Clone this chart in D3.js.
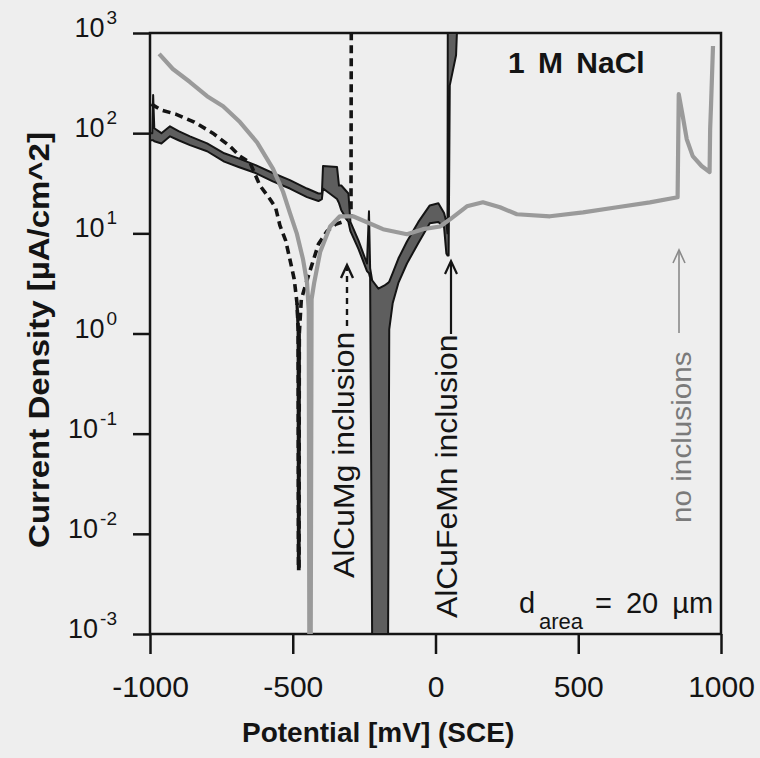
<!DOCTYPE html>
<html lang="en">
<head>
<meta charset="UTF-8">
<script src="https://cdn.jsdelivr.net/npm/d3@7"></script>
<style>
  body { margin: 0; background: #eeeeee; }
  svg { display: block; font-family: "Liberation Sans", Arial, Helvetica, sans-serif; }
</style>
</head>
<body>
<div id="chart_area"></div>
<script>
// axis ticks
var potTicks = [-1000, -500, 0, 500, 1000];
var decadeExp = [3, 2, 1, 0, -1, -2, -3];

// AlCuFeMn inclusion (solid, noisy -> upper / lower envelope of the band)
var solidPot = [-1000, -992, -989, -985, -960, -930, -900, -860, -800, -740, -690, -630, -570, -510, -450, -410, -398,
                -394, -345, -338, -330, -305, -298, -270, -240, -233, -229, -222, -200, -180, -166, -162, -150, -130,
                -100, -60, -20, 10, 30, 38, 42, 43, 46, 50, 72, 75];
var solidHi  = [100, 100, 240, 112, 100, 117, 105, 93, 79, 63, 56, 48, 40, 34, 28, 25, 25,
                47, 46, 30, 30, 25, 13, 8.5, 5, 16.6, 4.5, 3.4, 2.8, 3.0, 3.2, 3.3, 4.0, 5.6,
                8.3, 13, 19, 20, 16, 13, 10, 1000, 1000, 1000, 1000, 1000];
var solidLo  = [85, 85, 85, 83, 79, 93, 85, 76, 66, 52, 46, 40, 33, 28, 23, 21, 22,
                28, 22, 20, 17, 13, 10.5, 7, 4.2, 4, 3.6, 0.001, 0.001, 0.001, 0.001, 1.1, 2.0, 3.2,
                5.0, 8, 12.6, 13, 11.5, 6.3, 6, 6, 6, 300, 600, 1000];

// AlCuMg inclusion (dashed)
var dashPot = [-995, -960, -910, -845, -780, -720, -685, -650, -615, -580, -560, -545, -525, -510, -495, -485,
               -481, -480, -478, -477, -470, -446, -410, -380, -350, -325, -305, -296, -295];
var dashCur = [195, 170, 155, 129, 100, 74, 59, 51, 30, 22, 18, 12, 8.5, 5.5, 3.5, 2.0,
               1.1, 0.0045, 0.0045, 1.0, 2.2, 3.7, 7.8, 10.5, 12.3, 13, 14.5, 15, 1000];

// no inclusions (grey)
var greyPot = [-968, -920, -860, -800, -744, -685, -625, -569, -534, -510, -486, -464, -450, -444, -442, -437,
               -434, -425, -404, -369, -335, -289, -240, -184, -100, -44, 16, 51, 110, 166, 226, 285, 401,
               517, 636, 751, 848, 852, 866, 880, 901, 932, 960, 962, 965, 972];
var greyCur = [620, 437, 324, 234, 186, 129, 81, 44, 26, 16, 10, 5.5, 3.2, 1.7, 0.001, 0.001,
               2.2, 3.2, 6.5, 11.7, 14.8, 14.8, 12.9, 11, 9.8, 11, 11.7, 13.8, 18.6, 20.4, 18.2, 15.5, 14.8,
               16.2, 18.2, 20.4, 22.9, 245, 148, 87, 59, 47, 41, 110, 186, 741];

var W = 760, H = 758;
var x = d3.scaleLinear().domain([-1000, 1000]).range([150, 721]);
var y = d3.scaleLog().domain([1e-3, 1e3]).range([634, 33]);
var ink = "#141414";

var svg = d3.select("#chart_area").append("svg")
    .attr("width", W)
    .attr("height", H);

svg.append("rect").attr("width", W).attr("height", H).attr("fill", "#eeeeee");

svg.append("defs").append("clipPath").attr("id", "plot")
  .append("rect").attr("x", 150).attr("y", 33).attr("width", 571).attr("height", 601);

// axes
var xAxis = svg.append("g")
    .attr("transform", "translate(0,634)")
    .call(d3.axisBottom(x).tickValues(potTicks).tickSize(20).tickSizeOuter(0).tickPadding(22)
      .tickFormat(function(d) { return String(d); }));
xAxis.select(".domain").remove();
xAxis.selectAll("line").attr("stroke", ink).attr("stroke-width", 2.5);
xAxis.selectAll("text").attr("font-size", 30).attr("fill", ink)
    .attr("font-family", "Liberation Sans, Arial, sans-serif");

var yAxis = svg.append("g")
    .attr("transform", "translate(150,0)")
    .call(d3.axisLeft(y).tickValues(decadeExp.map(function(e) { return Math.pow(10, e); }))
      .tickSize(17).tickSizeOuter(0).tickFormat(""));
yAxis.select(".domain").remove();
yAxis.selectAll("line").attr("stroke", ink).attr("stroke-width", 2.5);

decadeExp.forEach(function(e) {
  var t = svg.append("text")
      .attr("x", 117)
      .attr("y", y(Math.pow(10, e)) + 4)
      .attr("text-anchor", "end")
      .attr("font-size", 27)
      .attr("fill", ink);
  t.append("tspan").text("10");
  t.append("tspan").attr("font-size", 19).attr("dy", -13).attr("dx", 2).text(String(e));
});

svg.append("rect")
    .attr("x", 150).attr("y", 33).attr("width", 571).attr("height", 601)
    .attr("fill", "none").attr("stroke", ink).attr("stroke-width", 2.5);

// curves
var plot = svg.append("g").attr("clip-path", "url(#plot)");

var solidArea = d3.area()
    .x(function(d, i) { return x(solidPot[i]); })
    .y0(function(d, i) { return y(solidLo[i]); })
    .y1(function(d, i) { return y(solidHi[i]); });

plot.append("path")
    .attr("d", solidArea(solidPot))
    .attr("fill", "#5e5e5e")
    .attr("stroke", ink)
    .attr("stroke-width", 2)
    .attr("stroke-linejoin", "round");

var dashLine = d3.line()
    .x(function(d, i) { return x(dashPot[i]); })
    .y(function(d, i) { return y(dashCur[i]); });

plot.append("path")
    .attr("d", dashLine(dashPot))
    .attr("fill", "none")
    .attr("stroke", ink)
    .attr("stroke-width", 3.6)
    .attr("stroke-dasharray", "8,5");

// the steep drop at the corrosion potential reads as a solid line
var plungeIdx = d3.range(dashPot.length).filter(function(i) { return dashPot[i] >= -485 && dashPot[i] <= -477; });
plot.append("path")
    .attr("d", d3.line()
      .x(function(i) { return x(dashPot[i]); })
      .y(function(i) { return y(dashCur[i]); })(plungeIdx))
    .attr("fill", "none")
    .attr("stroke", ink)
    .attr("stroke-width", 3.2);

var greyLine = d3.line()
    .x(function(d, i) { return x(greyPot[i]); })
    .y(function(d, i) { return y(greyCur[i]); });

plot.append("path")
    .attr("d", greyLine(greyPot))
    .attr("fill", "none")
    .attr("stroke", "#9a9a9a")
    .attr("stroke-width", 4.2)
    .attr("stroke-linejoin", "round");

// annotations
svg.append("text")
    .attr("x", 508).attr("y", 73)
    .attr("font-size", 30).attr("font-weight", "bold")
    .attr("word-spacing", 5)
    .attr("fill", ink)
    .text("1 M NaCl");

function vtext(px, py, size, color, str) {
  svg.append("text")
      .attr("transform", "translate(" + px + "," + py + ") rotate(-90) scale(1.1,1)")
      .attr("font-size", size)
      .attr("fill", color)
      .text(str);
}
function arrow(px, yFrom, yTo, color, width, dash) {
  svg.append("line")
      .attr("x1", px).attr("x2", px).attr("y1", yFrom).attr("y2", yTo + 2)
      .attr("stroke", color).attr("stroke-width", width)
      .attr("stroke-dasharray", dash || null);
  svg.append("path")
      .attr("d", "M" + (px - 6) + "," + (yTo + 13) + "L" + px + "," + yTo + "L" + (px + 6) + "," + (yTo + 13))
      .attr("fill", "none").attr("stroke", color).attr("stroke-width", width);
}

vtext(354, 578, 29, ink, "AlCuMg inclusion");
arrow(347, 326, 265, ink, 2.4, "6,5");

vtext(457, 618, 29, ink, "AlCuFeMn inclusion");
arrow(451, 334, 261, ink, 2.2);

vtext(691, 523, 27, "#7a7a7a", "no inclusions");
arrow(679, 333, 250, "#8a8a8a", 1.6);

svg.append("text").attr("x", 519).attr("y", 613).attr("font-size", 29).attr("fill", ink).text("d");
svg.append("text").attr("x", 539).attr("y", 629).attr("font-size", 22).attr("fill", ink).text("area");
svg.append("text").attr("x", 595).attr("y", 613).attr("font-size", 29).attr("word-spacing", 6)
    .attr("fill", ink).text("= 20 µm");

// axis titles
svg.append("text")
    .attr("x", 242).attr("y", 742)
    .attr("font-size", 28).attr("font-weight", "bold")
    .attr("fill", ink)
    .text("Potential [mV] (SCE)");

svg.append("text")
    .attr("transform", "translate(49,340) rotate(-90) scale(1.1,1)")
    .attr("text-anchor", "middle")
    .attr("font-size", 30).attr("font-weight", "bold")
    .attr("fill", ink)
    .text("Current Density [µA/cm^2]");
</script>
</body>
</html>
